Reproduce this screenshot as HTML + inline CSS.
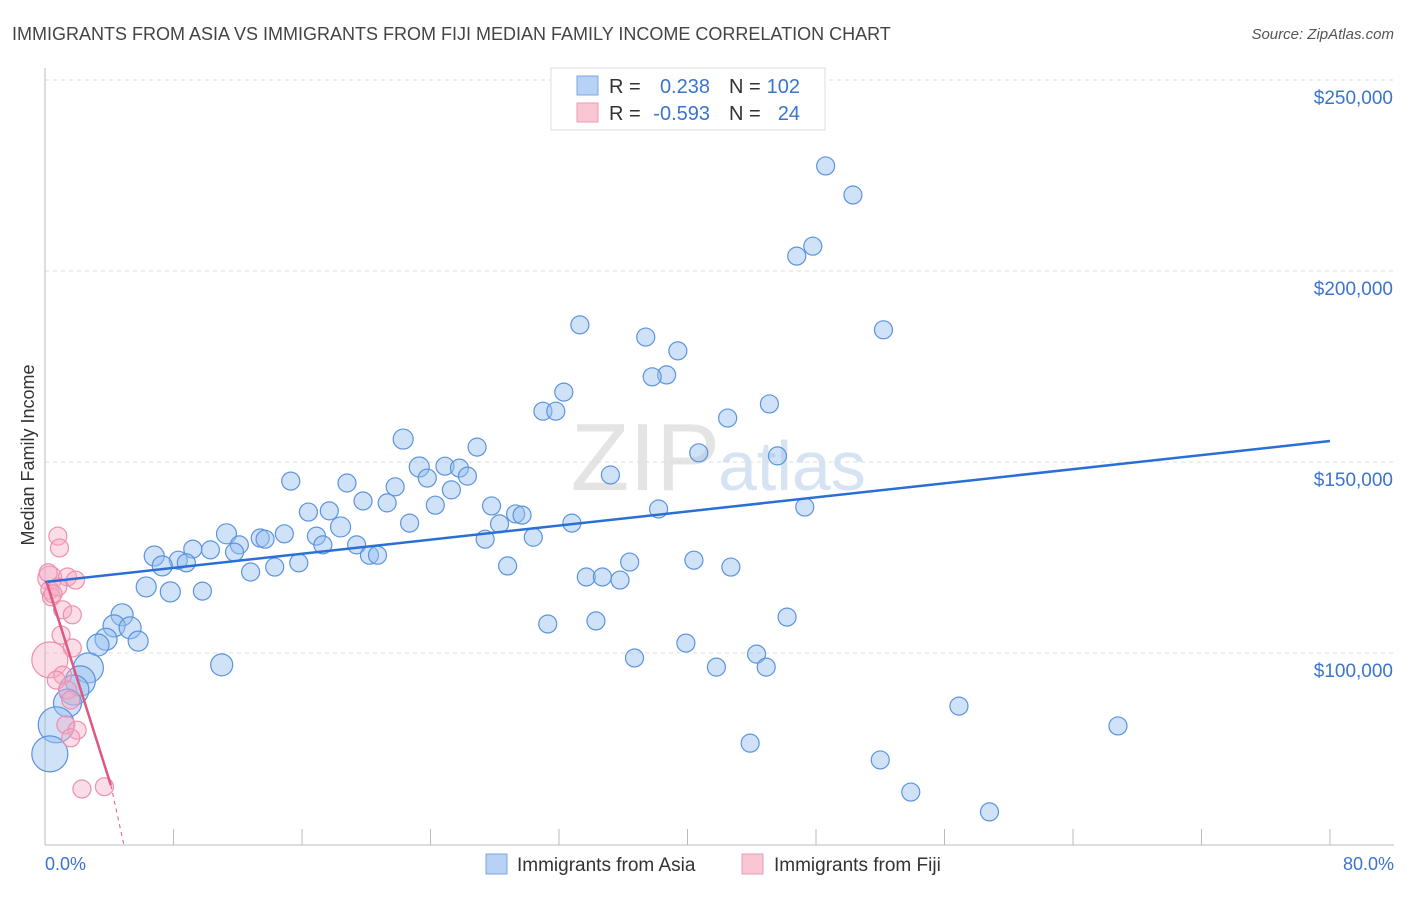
<!DOCTYPE html>
<html><head><meta charset="utf-8"><style>
body{margin:0;background:#fff;font-family:"Liberation Sans",sans-serif;}
svg text{font-family:"Liberation Sans",sans-serif;}
</style></head><body>
<svg id="chart" width="1406" height="892" xmlns="http://www.w3.org/2000/svg">
<text x="12" y="40" font-size="18" fill="#444">IMMIGRANTS FROM ASIA VS IMMIGRANTS FROM FIJI MEDIAN FAMILY INCOME CORRELATION CHART</text>
<text x="1394" y="39" font-size="15" fill="#555" text-anchor="end" font-style="italic">Source: ZipAtlas.com</text>
<text x="720" y="490" font-size="96" fill="#e4e4e4" text-anchor="end" font-family="Liberation Serif">ZIP</text>
<text x="718" y="490" font-size="70" fill="#d6e3f3">atlas</text>
<g id="grid"></g>
<g id="axes"></g>
<g id="pts"></g>
<g id="trend"></g>
<text transform="translate(34,455) rotate(-90)" font-size="18" fill="#333" text-anchor="middle">Median Family Income</text>
<text x="45" y="870" font-size="18" fill="#3a74d0">0.0%</text>
<text x="1394" y="870" font-size="18" fill="#3a74d0" text-anchor="end">80.0%</text>
<g>
<rect x="551" y="68" width="274" height="62" fill="#fff" stroke="#ddd"/>
<rect x="577" y="76" width="21" height="19" fill="#b8d2f5" stroke="#7aa7e6"/>
<rect x="577" y="103" width="21" height="19" fill="#f9c6d4" stroke="#ef9ab4"/>
<text x="609" y="93" font-size="20" fill="#333">R =</text>
<text x="710" y="93" font-size="20" fill="#3a74d0" text-anchor="end">0.238</text>
<text x="729" y="93" font-size="20" fill="#333">N =</text>
<text x="800" y="93" font-size="20" fill="#3a74d0" text-anchor="end">102</text>
<text x="609" y="120" font-size="20" fill="#333">R =</text>
<text x="710" y="120" font-size="20" fill="#3a74d0" text-anchor="end">-0.593</text>
<text x="729" y="120" font-size="20" fill="#333">N =</text>
<text x="800" y="120" font-size="20" fill="#3a74d0" text-anchor="end">24</text>
</g>
<g>
<rect x="486" y="854" width="21" height="20" fill="#b8d2f5" stroke="#7aa7e6"/>
<text x="517" y="871" font-size="19" fill="#333">Immigrants from Asia</text></g>
<g>
<rect x="742" y="854" width="21" height="20" fill="#f9c6d4" stroke="#ef9ab4"/>
<text x="774" y="871" font-size="19" fill="#333">Immigrants from Fiji</text></g>
</svg>
<script>
const yTicks=[100000,150000,200000,250000];
const yTickLabels=["$100,000","$150,000","$200,000","$250,000"];
const asiaX=[48.6,50.3,47.8,46.8,52.2,33.3,37.4,39.4,38.7,37.8,32.3,31.0,31.8,42.5,45.1,22.3,26.9,40.7,45.6,23.3,24.9,25.8,26.3,35.2,23.8,15.3,18.8,21.8,25.3,19.8,21.3,24.3,27.8,16.4,17.7,29.3,29.7,38.2,47.3,22.7,28.3,32.8,18.4,11.3,14.9,13.4,16.9,13.7,30.4,27.4,17.3,12.1,19.4,10.3,9.2,11.8,6.8,8.3,8.8,7.3,20.2,20.7,15.8,14.3,12.8,40.4,36.4,42.7,28.8,33.7,34.7,35.8,6.3,7.8,9.8,4.8,46.2,34.3,31.3,4.3,5.3,3.8,5.8,3.3,39.9,44.3,36.7,11.0,41.8,44.9,2.7,2.2,1.8,1.4,56.9,66.8,0.7,43.9,52.0,53.9,58.8,0.3];
const asiaY=[227.5,219.9,206.5,203.9,184.6,185.9,182.7,179.1,172.8,172.3,168.3,163.3,163.3,161.5,165.2,156.0,153.9,152.4,151.6,148.7,148.9,148.4,146.3,146.6,145.8,145.0,144.5,143.5,142.7,139.8,139.3,138.7,138.5,136.9,137.2,136.4,136.1,137.7,138.2,134.0,133.8,134.0,133.0,131.2,131.2,130.1,130.6,129.8,130.3,129.8,128.3,128.3,128.3,127.0,127.2,126.4,125.4,124.3,123.6,122.8,125.6,125.6,123.6,122.5,121.2,124.3,123.8,122.5,122.8,119.9,119.9,119.1,117.3,116.0,116.2,110.0,109.4,108.4,107.6,107.1,106.6,103.6,103.1,102.1,102.6,99.7,98.7,96.9,96.3,96.3,96.1,92.7,90.3,86.9,86.1,80.9,81.2,76.4,72.0,63.6,58.4,73.6];
const asiaSize=[9,9,9,9,9,9,9,9,9,9,9,9,9,9,9,10,9,9,9,10,9,9,9,9,9,9,9,9,9,9,9,9,9,9,9,9,9,9,9,9,9,9,10,10,9,9,9,9,9,9,9,9,9,9,9,9,10,9,9,10,9,9,9,9,9,9,9,9,9,9,9,9,10,10,9,11,9,9,9,11,11,11,10,11,9,9,9,11,9,9,15,15,15,14,9,9,18,9,9,9,9,18];
const fijiX=[0.8,0.9,0.3,1.4,1.9,0.3,0.4,1.1,1.7,1.0,1.7,0.3,1.1,0.7,1.4,1.6,1.3,2.0,1.6,2.3,3.7,0.8,0.5,0.2];
const fijiY=[130.6,127.5,119.6,119.9,119.1,116.5,114.7,111.3,110.0,104.7,101.3,98.2,94.2,92.9,90.3,87.7,81.2,79.8,77.8,64.4,65.0,117.3,115.5,121.0];
const fijiSize=[9,9,12,9,9,9,9,9,9,9,9,18,9,9,9,9,9,9,9,9,9,9,9,9];
const asiaTrend=[[0,118.6],[80,155.5]];
const fijiTrend=[[0.1,118.6],[4.1,65.4]];
const fijiTrendExt=[[4.1,65.4],[4.9,50.0]];

const NS="http://www.w3.org/2000/svg";
const X=p=>45+p*1285/80;
const Y=k=>80+(250-k)*191/50;
function mk(tag,parent,attrs){const e=document.createElementNS(NS,tag);for(const k in attrs)e.setAttribute(k,attrs[k]);document.getElementById(parent).appendChild(e);return e;}
yTicks.forEach((v,i)=>{
  const l=mk('line','grid',{x1:45,x2:1394,y1:Y(v/1000),y2:Y(v/1000),stroke:'#ddd','stroke-dasharray':'4,4'});
  
  
  const t=mk('text','grid',{x:1393,y:Y(v/1000)+24,'font-size':19,fill:'#3a74d0','text-anchor':'end'});
  t.textContent=yTickLabels[i];
  
  
});
const a1=mk('line','axes',{x1:45,x2:45,y1:68,y2:845,stroke:'#bbb'});


const a2=mk('line','axes',{x1:45,x2:1394,y1:845,y2:845,stroke:'#bbb'});


for(let i=1;i<=10;i++){
  const t=mk('line','axes',{x1:X(i*8),x2:X(i*8),y1:829,y2:845,stroke:'#bbb'});
  
  
}
asiaX.forEach((x,i)=>{
  const c=mk('circle','pts',{cx:X(x),cy:Y(asiaY[i]),r:asiaSize[i],fill:'rgba(150,190,240,0.45)',stroke:'#5b93de','stroke-width':1.2});
  
  
});
fijiX.forEach((x,i)=>{
  const c=mk('circle','pts',{cx:X(x),cy:Y(fijiY[i]),r:fijiSize[i],fill:'rgba(245,170,195,0.4)',stroke:'#ee8fae','stroke-width':1.2});
  
  
});
const t1=mk('line','trend',{x1:X(asiaTrend[0][0]),y1:Y(asiaTrend[0][1]),x2:X(asiaTrend[1][0]),y2:Y(asiaTrend[1][1]),stroke:'#2a6fd6','stroke-width':2.5});


const t2=mk('line','trend',{x1:X(fijiTrend[0][0]),y1:Y(fijiTrend[0][1]),x2:X(fijiTrend[1][0]),y2:Y(fijiTrend[1][1]),stroke:'#e0577f','stroke-width':2.5});


const t3=mk('line','trend',{x1:X(fijiTrendExt[0][0]),y1:Y(fijiTrendExt[0][1]),x2:X(fijiTrendExt[1][0]),y2:Y(fijiTrendExt[1][1]),stroke:'#e0577f','stroke-width':1,'stroke-dasharray':'4,4'});


</script>
</body></html>
